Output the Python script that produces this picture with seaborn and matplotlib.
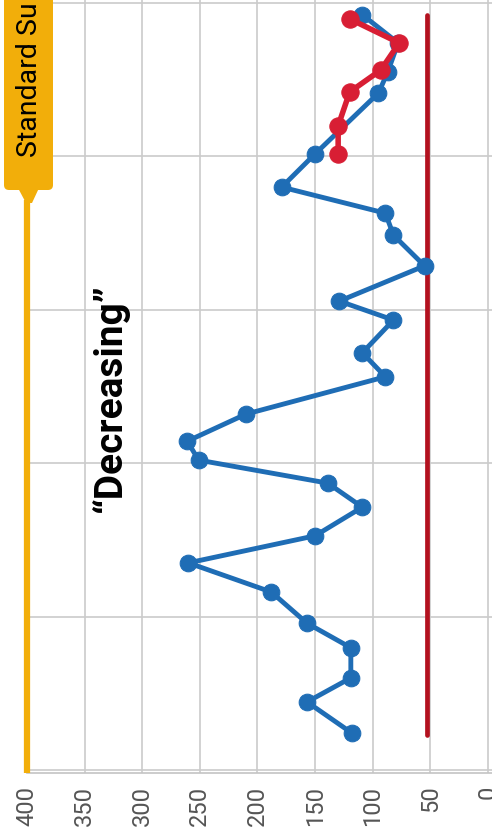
import matplotlib
matplotlib.use("Agg")
import matplotlib.pyplot as plt
import matplotlib.patches as mpatches
from matplotlib.transforms import IdentityTransform
import seaborn as sns

# ─── Données (jour, valeur) ─────────────────────────────────────────────────
blue_day = [7.2, 13.3, 18.0, 23.9, 28.7, 34.8, 40.5, 45.8, 51.4, 56.1, 60.6,
            64.3, 69.6, 76.9, 81.6, 88.0, 91.7, 98.6, 104.6, 108.9, 114.0,
            120.5, 132.4, 136.5, 142.2, 147.7]
blue_val = [118, 157, 119, 119, 157, 188, 260, 150, 109, 139, 251,
            261, 210, 89, 109, 82, 129, 55, 82, 89, 179,
            150, 95, 87, 78, 109]

red_day = [120.5, 126.0, 132.6, 136.9, 142.2, 146.9]
red_val = [130, 130, 120, 93, 77, 120]

limit_day = [6.8, 147.7]
limit_val = [53, 53]

standard_day = [-0.6, 111.5]
standard_val = [400, 400]

value_ticks = [400, 350, 300, 250, 200, 150, 100, 50, 0]
day_grid = [0, 30, 60, 90, 120, 150]

BLUE = '#1F6DB5'
RED = '#D81E34'
DARK_RED = '#B3111F'
ORANGE = '#F2AE0A'
FONT = ['Roboto', 'DejaVu Sans']

sns.set_style('white')
plt.rcParams['font.family'] = FONT

W, H = 492, 840
fig = plt.figure(figsize=(W / 100, H / 100), dpi=100)
fig.patch.set_facecolor('white')
ax = fig.add_axes([27 / W, 1 - 773 / H, 1 - 27 / W, 773 / H])

ax.set_xlim(400, -3.5)
ax.set_ylim(-0.6, 150.6)
ax.set_xticks(value_ticks)
ax.set_xticklabels([str(v) for v in value_ticks], rotation=90,
                   fontsize=17, color='#555555', va='top')
ax.set_yticks(day_grid)
ax.set_yticklabels([])
ax.tick_params(axis='x', length=0, pad=9)
ax.tick_params(axis='y', length=0)
ax.grid(True, color='#cbcbcb', linewidth=1.2)
for side in ['top', 'right', 'left']:
    ax.spines[side].set_visible(False)
ax.spines['bottom'].set_color('#c4c4c4')
ax.spines['bottom'].set_linewidth(1.2)

# ligne standard (orange)
ax.plot(standard_val, standard_day, color=ORANGE, linewidth=4.5,
        clip_on=False, solid_capstyle='butt', zorder=3)

# limite rouge
ax.plot(limit_val, limit_day, color=DARK_RED, linewidth=3.4,
        solid_capstyle='round', zorder=2)

# séries
sns.lineplot(x=blue_val, y=blue_day, sort=False, orient='y', ax=ax,
             color=BLUE, linewidth=3.5, marker='o', markersize=12,
             markeredgecolor=BLUE, zorder=4)
sns.lineplot(x=red_val, y=red_day, sort=False, orient='y', ax=ax,
             color=RED, linewidth=4.0, marker='o', markersize=12.5,
             markeredgecolor=RED, zorder=5)

# étiquette "Standard Su..."
px = IdentityTransform()
box = mpatches.FancyBboxPatch((4, H - 190), 49, 200,
                              boxstyle='round,pad=0,rounding_size=5',
                              facecolor=ORANGE, edgecolor='none',
                              transform=px)
fig.add_artist(box)
pointer = mpatches.Polygon([(18, H - 188), (39, H - 188), (32, H - 203), (26, H - 203)],
                           closed=True, facecolor=ORANGE, edgecolor='none',
                           transform=px)
fig.add_artist(pointer)
fig.text(30 / W, 1 - 157 / H, 'Standard Su', rotation=90, ha='center',
         va='bottom', fontsize=20.5, color='black')

fig.text(110 / W, 1 - 398 / H, '\u201cDecreasing\u201d', rotation=90,
         ha='center', va='center', fontsize=28, fontweight='bold',
         color='black')

fig.savefig('out.png', dpi=100, facecolor='white')
